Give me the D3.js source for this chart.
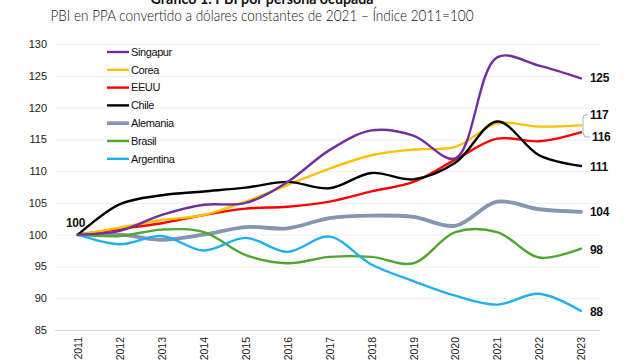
<!DOCTYPE html>
<html><head><meta charset="utf-8">
<script src="https://cdn.jsdelivr.net/npm/d3@7"></script>
<style>body{margin:0;background:#fff;}svg{display:block;}</style>
</head><body>
<svg id="c" width="640" height="361"></svg>
<script>
const years = [2011,2012,2013,2014,2015,2016,2017,2018,2019,2020,2021,2022,2023];
const singapur  = [100,100.6,103.1,104.7,105.0,108.3,113.3,116.4,115.6,112.0,127.9,126.6,124.6];
const corea     = [100,101.1,102.3,103.1,105.2,107.8,110.4,112.5,113.4,113.8,117.5,117.0,117.2];
const eeuu      = [100,100.9,101.8,103.1,104.1,104.4,105.2,106.8,108.3,111.8,115.1,114.7,116.1];
const chile     = [100,104.8,106.2,106.8,107.4,108.3,107.3,109.7,108.7,111.3,117.8,112.5,110.8];
const alemania  = [100,100.0,99.2,100.0,101.2,101.0,102.6,103.0,102.8,101.4,105.2,104.0,103.6];
const brasil    = [100,99.8,100.8,100.4,96.8,95.5,96.5,96.5,95.5,100.4,100.4,96.4,97.8];
const argentina = [100,98.5,99.8,97.5,99.5,97.3,99.7,95.3,92.7,90.4,89.0,90.7,88.0];
const seriesNames = ["Singapur","Corea","EEUU","Chile","Alemania","Brasil","Argentina"];
const seriesColors = ["#7030A0","#FFC000","#FF0000","#000000","#8497B0","#4EA72E","#1FB0F0"];
const endLabels = ["125","117","116","111","104","98","88"];
const yTicks = [85,90,95,100,105,110,115,120,125,130];
const title = "Gráfico 1: PBI por persona ocupada";
const subtitle = "PBI en PPA convertido a dólares constantes de 2021 – Índice 2011=100";

const allSeries = [singapur,corea,eeuu,chile,alemania,brasil,argentina];
const svg = d3.select("#c");
const x = d3.scalePoint().domain(years).range([78,581]);
const y = d3.scaleLinear().domain([85,130]).range([330,44]);

// title
svg.append("text").attr("x",262).attr("y",4).attr("text-anchor","middle")
  .attr("font-family","Lato, 'Open Sans', sans-serif").attr("font-weight","bold")
  .attr("font-size",15).attr("fill","#111")
  .attr("textLength",223).attr("lengthAdjust","spacingAndGlyphs").text(title);
svg.append("text").attr("x",262).attr("y",21).attr("text-anchor","middle")
  .attr("font-family","Lato, 'Open Sans', sans-serif").attr("font-weight","300")
  .attr("font-size",16).attr("fill","#111")
  .attr("textLength",423).attr("lengthAdjust","spacingAndGlyphs").text(subtitle);

// grid
const yAxis = d3.axisLeft(y).tickValues(yTicks).tickSize(-545).tickPadding(8).tickFormat(d3.format("d"));
const gy = svg.append("g").attr("transform","translate(55,0)").call(yAxis);
gy.select(".domain").remove();
gy.selectAll(".tick line").attr("stroke",(d)=> d===85 ? "#d9d9d9" : "#efefef").attr("stroke-width",1);
gy.selectAll(".tick text").attr("font-family","'Liberation Sans', Arial, sans-serif")
  .attr("font-size",11).attr("fill","#222").attr("x",-8);

// x axis labels
const xAxis = d3.axisBottom(x).tickSize(0).tickPadding(0);
const gx = svg.append("g").attr("transform","translate(0,336)").call(xAxis);
gx.select(".domain").remove();
gx.selectAll(".tick text").attr("font-family","'Liberation Sans', Arial, sans-serif")
  .attr("font-size",10.5).attr("fill","#222")
  .attr("text-anchor","end").attr("dy","0.35em").attr("x",-1).attr("y",0)
  .attr("transform","rotate(-90)");

// lines
const line = d3.line().x((d,i)=>x(years[i])).y(d=>y(d)).curve(d3.curveCatmullRom.alpha(0.5));
const order = [4,5,6,2,1,3,0];
order.forEach(k=>{
  svg.append("path").datum(allSeries[k]).attr("d",line).attr("fill","none")
    .attr("stroke",seriesColors[k]).attr("stroke-width",k===4?3.8:2.4)
    .attr("stroke-linejoin","round").attr("stroke-linecap","round");
});

// legend
const lg = svg.append("g");
seriesNames.forEach((n,i)=>{
  const yy = 52 + i*17.8;
  lg.append("line").attr("x1",107).attr("x2",129).attr("y1",yy).attr("y2",yy)
    .attr("stroke",seriesColors[i]).attr("stroke-width",i===4?3.8:2.4);
  lg.append("text").attr("x",131).attr("y",yy).attr("dy","0.35em")
    .attr("font-family","'Liberation Sans', Arial, sans-serif").attr("font-size",11)
    .attr("letter-spacing","-0.4").attr("fill","#111").text(n);
});

// end labels
const labelY = [78,115,137,167,212,250,312];
endLabels.forEach((t,i)=>{
  svg.append("text").attr("x",i===2?592:590).attr("y",labelY[i]).attr("dy","0.35em")
    .attr("font-family","'Liberation Sans', Arial, sans-serif").attr("font-weight","bold")
    .attr("font-size",12).attr("letter-spacing","-0.3").attr("fill","#111").text(t);
});
// bracket for 117/116
svg.append("path").attr("d","M588,115 L584,115 L583,118 L583,133 L585,137 L590,137")
  .attr("fill","none").attr("stroke","#999").attr("stroke-width",0.8);

// 100 label
svg.append("text").attr("x",66).attr("y",223).attr("dy","0.35em")
  .attr("font-family","'Liberation Sans', Arial, sans-serif").attr("font-weight","bold")
  .attr("font-size",12).attr("letter-spacing","-0.3").attr("fill","#111").text("100");
</script>
</body></html>
